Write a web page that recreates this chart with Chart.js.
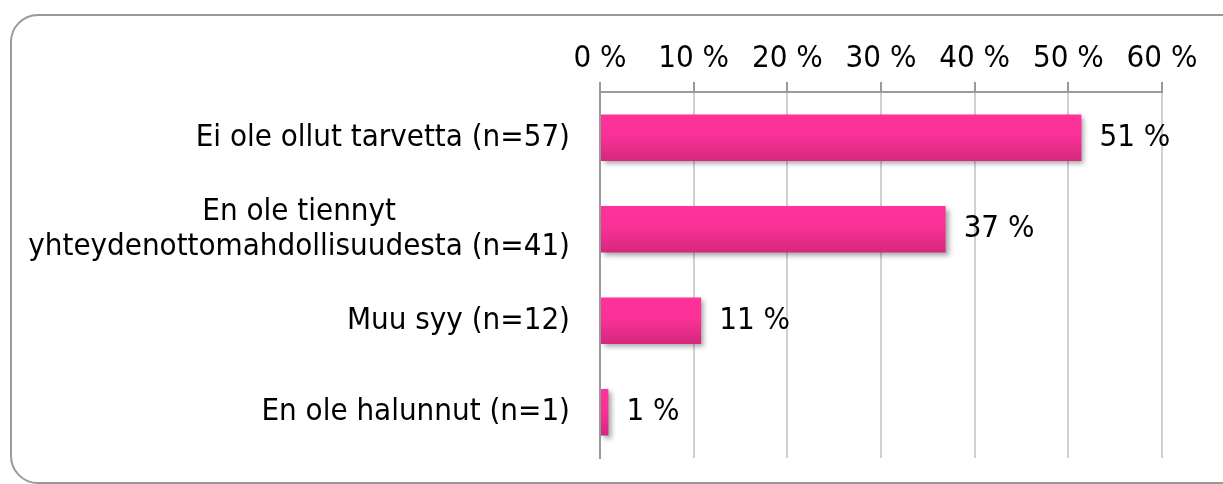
<!DOCTYPE html>
<html>
<head>
<meta charset="utf-8">
<script src="https://cdn.jsdelivr.net/npm/chart.js@4/dist/chart.umd.min.js"></script>
<style>
  html, body { margin: 0; padding: 0; background: #fff; overflow: hidden; }
  #wrap { position: relative; width: 1223px; height: 484px; }
  #frame {
    position: absolute; left: 10px; top: 14px; width: 1260px; height: 470px;
    border: 2px solid #9a9a9a; border-radius: 28px; box-sizing: border-box;
  }
  canvas { position: absolute; left: 0; top: 0; }
</style>
</head>
<body>
<div id="wrap">
  <div id="frame"></div>
  <canvas id="chart" width="1223" height="484"></canvas>
</div>
<script>
const categories = [
  ["Ei ole ollut tarvetta (n=57)"],
  ["En ole tiennyt", "yhteydenottomahdollisuudesta (n=41)"],
  ["Muu syy (n=12)"],
  ["En ole halunnut (n=1)"],
];
const shares = [51.4, 36.9, 10.8, 0.9];
const tickValues = [0, 10, 20, 30, 40, 50, 60];

const FONT = "'DejaVu Sans Condensed', 'DejaVu Sans', sans-serif";
const FONT_SIZE = 31;
const BAR_PCT = 0.51;

function barFill(c) {
  const chart = c.chart;
  const y = chart.scales.y;
  if (c.type !== "data" || !y || !chart.chartArea) return "#f7329a";
  const cy = y.getPixelForValue(c.dataIndex);
  const half = (y.height / categories.length) * BAR_PCT / 2;
  const g = chart.ctx.createLinearGradient(0, cy - half, 0, cy + half);
  g.addColorStop(0, "#ff3399");
  g.addColorStop(0.45, "#fa3197");
  g.addColorStop(1, "#d3287d");
  return g;
}

// category labels drawn at the y scale's tick positions, lines centred on each other
const categoryLabels = {
  id: "categoryLabels",
  afterDraw(chart) {
    const ctx = chart.ctx;
    const y = chart.scales.y;
    const right = chart.chartArea.left - 30;
    const lh = 35;
    ctx.save();
    ctx.font = FONT_SIZE + "px " + FONT;
    ctx.fillStyle = "#000";
    ctx.textAlign = "center";
    ctx.textBaseline = "middle";
    categories.forEach((lines, i) => {
      const w = Math.max(...lines.map((l) => ctx.measureText(l).width));
      const cx = right - w / 2;
      const cy = y.getPixelForTick(i);
      lines.forEach((l, k) => {
        ctx.fillText(l, cx, cy + (k - (lines.length - 1) / 2) * lh);
      });
    });
    ctx.restore();
  },
};

const valueLabels = {
  id: "valueLabels",
  afterDatasetsDraw(chart) {
    const ctx = chart.ctx;
    const meta = chart.getDatasetMeta(0);
    ctx.save();
    ctx.font = FONT_SIZE + "px " + FONT;
    ctx.fillStyle = "#000";
    ctx.textAlign = "left";
    ctx.textBaseline = "middle";
    meta.data.forEach((bar, i) => {
      ctx.fillText(Math.round(shares[i]) + " %", bar.x + 18, bar.y);
    });
    ctx.restore();
  },
};

const barShadow = {
  id: "barShadow",
  beforeDatasetsDraw(chart) {
    const ctx = chart.ctx;
    ctx.save();
    ctx.shadowColor = "rgba(0,0,0,0.35)";
    ctx.shadowBlur = 5;
    ctx.shadowOffsetX = 3;
    ctx.shadowOffsetY = 3;
  },
  afterDatasetsDraw(chart) {
    chart.ctx.restore();
  },
};

new Chart(document.getElementById("chart"), {
  type: "bar",
  data: {
    labels: categories,
    datasets: [
      {
        data: shares,
        backgroundColor: barFill,
        borderWidth: 0,
        categoryPercentage: 1,
        barPercentage: BAR_PCT,
      },
    ],
  },
  options: {
    indexAxis: "y",
    responsive: false,
    animation: false,
    layout: { padding: { left: 600, right: 61, top: 0, bottom: 26 } },
    scales: {
      x: {
        position: "top",
        min: 0,
        max: 60,
        afterFit: (s) => { s.height = 92; },
        afterBuildTicks: (s) => { s.ticks = tickValues.map((v) => ({ value: v })); },
        ticks: {
          color: "#000",
          padding: 4,
          font: { family: FONT, size: FONT_SIZE },
          callback: (v) => v + " %",
        },
        grid: { color: "#d0d0d0", lineWidth: 2, tickColor: "#9a9a9a", tickLength: 10 },
        border: { color: "#9a9a9a", width: 2 },
      },
      y: {
        afterFit: (s) => { s.width = 0; },
        ticks: { display: false },
        grid: { display: false },
        border: { color: "#9a9a9a", width: 2 },
      },
    },
    plugins: {
      legend: { display: false },
      tooltip: { enabled: false },
    },
  },
  plugins: [barShadow, valueLabels, categoryLabels],
});
</script>
</body>
</html>
